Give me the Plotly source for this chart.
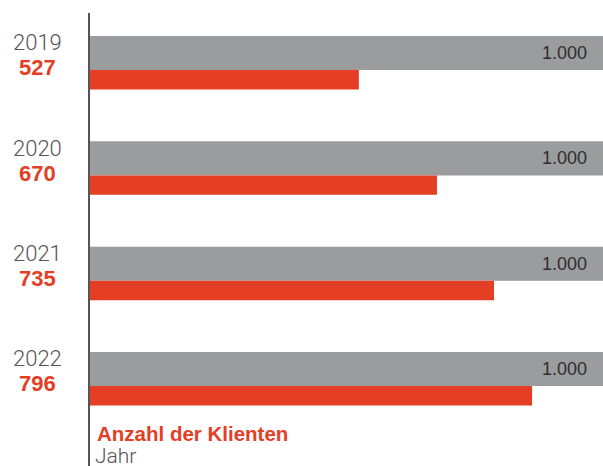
import plotly.graph_objects as go

years = ["2019", "2020", "2021", "2022"]
client_labels = ["527", "670", "735", "796"]
# bar lengths as drawn in the reference (scale: capacity bar = 1000)
client_bars = [525, 677, 788, 862]
capacity = [1000, 1000, 1000, 1000]
capacity_labels = ["1.000", "1.000", "1.000", "1.000"]
legend_clients = "Anzahl der Klienten"
legend_year = "Jahr"

GREY = "#9b9c9e"
RED = "#e43e25"
DARK = "#555555"

pos = list(range(len(years)))

fig = go.Figure()
fig.add_trace(go.Bar(
    y=pos, x=capacity, orientation="h",
    width=0.323, offset=-0.256,
    marker=dict(color=GREY, line=dict(width=0)),
    hoverinfo="skip", showlegend=False,
))
fig.add_trace(go.Bar(
    y=pos, x=client_bars, orientation="h",
    width=0.185, offset=0.067,
    marker=dict(color=RED, line=dict(width=0)),
    hoverinfo="skip", showlegend=False,
))

ann = []
for i in pos:
    ann.append(dict(
        x=-0.101, xref="paper", y=i, yref="y", yshift=20,
        text=years[i], showarrow=False, xanchor="center", yanchor="middle",
        font=dict(family="Roboto", size=22, color=DARK, weight=300),
    ))
    ann.append(dict(
        x=-0.101, xref="paper", y=i, yref="y", yshift=-5,
        text="<b>" + client_labels[i] + "</b>", showarrow=False,
        xanchor="center", yanchor="middle",
        font=dict(family="Liberation Sans", size=22, color=RED),
    ))
    ann.append(dict(
        x=capacity[i], xref="x", y=i, yref="y", yshift=10, xshift=-14,
        text=capacity_labels[i], showarrow=False,
        xanchor="right", yanchor="middle",
        font=dict(family="Liberation Sans", size=18, color="#2e2e2e"),
    ))

ann.append(dict(
    x=0.0117, xref="paper", y=0.0665, yref="paper", yshift=2,
    text="<b>" + legend_clients + "</b>", showarrow=False,
    xanchor="left", yanchor="middle",
    font=dict(family="Liberation Sans", size=20.5, color=RED),
))
ann.append(dict(
    x=0.008, xref="paper", y=0.0, yref="paper", yshift=-4,
    text=legend_year, showarrow=False,
    xanchor="left", yanchor="bottom",
    font=dict(family="Roboto", size=21, color=DARK, weight=300),
))

fig.update_layout(
    width=603, height=466,
    margin=dict(l=89, r=0, t=0, b=0, pad=0),
    paper_bgcolor="white", plot_bgcolor="white",
    barmode="overlay",
    xaxis=dict(range=[0, 1000], visible=False, showgrid=False, zeroline=False,
               fixedrange=True),
    yaxis=dict(range=[3.826, -0.598], visible=False, showgrid=False,
               zeroline=False, fixedrange=True),
    annotations=ann,
    shapes=[dict(type="line", xref="paper", yref="paper", x0=0, x1=0,
                 y0=0, y1=0.972, line=dict(color=DARK, width=2), layer="above")],
)

fig.write_html(
    "out.html",
    config={"displayModeBar": False},
    post_script="document.body.style.margin='0';document.body.style.overflow='hidden';",
)
